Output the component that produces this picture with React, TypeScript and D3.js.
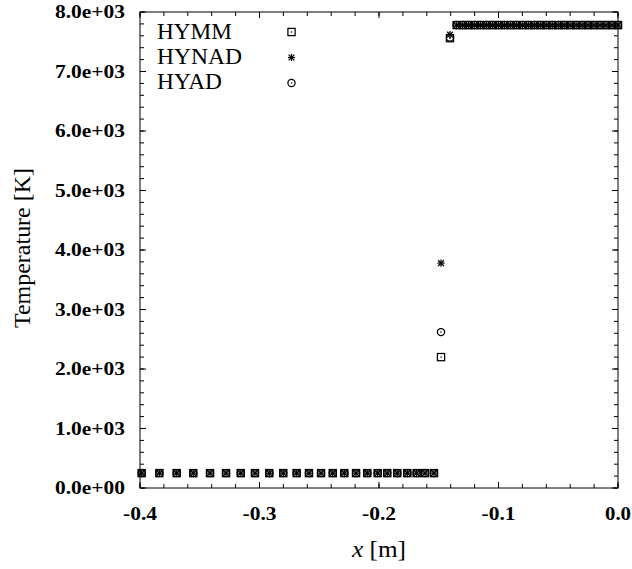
import React from "react";
import * as d3 from "d3";

const xCells = [
  -0.3986, -0.3838, -0.3693, -0.3554, -0.3414, -0.328, -0.3157, -0.3038, -0.2918, -0.2801, -0.2689, -0.2586,
  -0.2485, -0.2387, -0.229, -0.2192, -0.2098, -0.2011, -0.1931, -0.1847, -0.1763, -0.1685, -0.1615, -0.154,
  -0.1481, -0.1406,
  -0.135, -0.13, -0.125, -0.12, -0.115, -0.11, -0.105, -0.1, -0.095, -0.09, -0.085, -0.08, -0.075, -0.07,
  -0.065, -0.06, -0.055, -0.05, -0.045, -0.04, -0.035, -0.03, -0.025, -0.02, -0.015, -0.01, -0.005, 0.0,
];

const hymm = [
  250, 250, 250, 250, 250, 250, 250, 250, 250, 250, 250, 250, 250, 250, 250, 250, 250, 250, 250, 250, 250, 250, 250, 250,
  2200, 7560,
  7780, 7780, 7780, 7780, 7780, 7780, 7780, 7780, 7780, 7780, 7780, 7780, 7780, 7780,
  7780, 7780, 7780, 7780, 7780, 7780, 7780, 7780, 7780, 7780, 7780, 7780, 7780, 7780,
];
const hynad = [
  250, 250, 250, 250, 250, 250, 250, 250, 250, 250, 250, 250, 250, 250, 250, 250, 250, 250, 250, 250, 250, 250, 250, 250,
  3780, 7620,
  7780, 7780, 7780, 7780, 7780, 7780, 7780, 7780, 7780, 7780, 7780, 7780, 7780, 7780,
  7780, 7780, 7780, 7780, 7780, 7780, 7780, 7780, 7780, 7780, 7780, 7780, 7780, 7780,
];
const hyad = [
  250, 250, 250, 250, 250, 250, 250, 250, 250, 250, 250, 250, 250, 250, 250, 250, 250, 250, 250, 250, 250, 250, 250, 250,
  2620, 7570,
  7780, 7780, 7780, 7780, 7780, 7780, 7780, 7780, 7780, 7780, 7780, 7780, 7780, 7780,
  7780, 7780, 7780, 7780, 7780, 7780, 7780, 7780, 7780, 7780, 7780, 7780, 7780, 7780,
];

const seriesNames = ["HYMM", "HYNAD", "HYAD"];
const xTickLabels = ["-0.4", "-0.3", "-0.2", "-0.1", "0.0"];
const yTickLabels = ["0.0e+00", "1.0e+03", "2.0e+03", "3.0e+03", "4.0e+03", "5.0e+03", "6.0e+03", "7.0e+03", "8.0e+03"];

const W = 632;
const H = 569;
const L = 140, R = 618, T = 12, B = 488;
const FONT = "Liberation Serif, DejaVu Serif, serif";
const legendWidths = [75, 85, 65];

function Marker({ kind, x, y }: { kind: number; x: number; y: number }) {
  const s = 3.6;
  const st = { stroke: "#000", strokeWidth: 1.25, fill: "none" } as const;
  if (kind === 0) {
    return (
      <g>
        <rect x={x - s} y={y - s} width={2 * s} height={2 * s} {...st} />
        <circle cx={x} cy={y} r={0.75} fill="#000" />
      </g>
    );
  }
  if (kind === 1) {
    const d = s * 0.8;
    return (
      <g {...st}>
        <line x1={x - s} y1={y} x2={x + s} y2={y} />
        <line x1={x} y1={y - s} x2={x} y2={y + s} />
        <line x1={x - d} y1={y - d} x2={x + d} y2={y + d} />
        <line x1={x - d} y1={y + d} x2={x + d} y2={y - d} />
      </g>
    );
  }
  return (
    <g>
      <circle cx={x} cy={y} r={s} {...st} />
      <circle cx={x} cy={y} r={0.75} fill="#000" />
    </g>
  );
}

export default function App() {
  const xs = d3.scaleLinear().domain([-0.4, 0]).range([L, R]);
  const ys = d3.scaleLinear().domain([0, 8000]).range([B, T]);
  const xMajor = d3.range(0, 5).map((i) => -0.4 + i * 0.1);
  const xMinor = d3.range(0, 21).map((i) => -0.4 + i * 0.02);
  const yMajor = d3.range(0, 9).map((i) => i * 1000);
  const yMinor = d3.range(0, 41).map((i) => i * 200);
  const series = [hymm, hynad, hyad];
  const majLen = 6, minLen = 4;

  return (
    <svg width={W} height={H} style={{ position: "absolute", left: 0, top: 0, background: "#fff", fontFamily: FONT }}>
      <rect x={0} y={0} width={W} height={H} fill="#fff" />
      <g stroke="#000" strokeWidth={1}>
        {xMinor.map((v, i) => (
          <g key={"xm" + i}>
            <line x1={xs(v)} x2={xs(v)} y1={B} y2={B - minLen} />
            <line x1={xs(v)} x2={xs(v)} y1={T} y2={T + minLen} />
          </g>
        ))}
        {xMajor.map((v, i) => (
          <g key={"xM" + i}>
            <line x1={xs(v)} x2={xs(v)} y1={B} y2={B - majLen} />
            <line x1={xs(v)} x2={xs(v)} y1={T} y2={T + majLen} />
          </g>
        ))}
        {yMinor.map((v, i) => (
          <g key={"ym" + i}>
            <line x1={L} x2={L + minLen} y1={ys(v)} y2={ys(v)} />
            <line x1={R} x2={R - minLen} y1={ys(v)} y2={ys(v)} />
          </g>
        ))}
        {yMajor.map((v, i) => (
          <g key={"yM" + i}>
            <line x1={L} x2={L + majLen} y1={ys(v)} y2={ys(v)} />
            <line x1={R} x2={R - majLen} y1={ys(v)} y2={ys(v)} />
          </g>
        ))}
      </g>
      <rect x={L} y={T} width={R - L} height={B - T} fill="none" stroke="#000" strokeWidth={1} />
      {xMajor.map((v, i) => (
        <text key={"xl" + i} x={xs(v)} y={520} textAnchor="middle" fontSize={19} fontWeight="bold"
          textLength={xTickLabels[i].startsWith("-") ? 34 : 26} lengthAdjust="spacingAndGlyphs">
          {xTickLabels[i]}
        </text>
      ))}
      {yMajor.map((v, i) => (
        <text key={"yl" + i} x={125} y={ys(v) + 6} textAnchor="end" fontSize={19} fontWeight="bold"
          textLength={70} lengthAdjust="spacingAndGlyphs">
          {yTickLabels[i]}
        </text>
      ))}
      <text x={(L + R) / 2} y={557} textAnchor="middle" fontSize={23} textLength={54} lengthAdjust="spacingAndGlyphs">
        <tspan fontStyle="italic">x</tspan> [m]
      </text>
      <text transform={`translate(30, 248) rotate(-90)`} textAnchor="middle" fontSize={23}
        textLength={160} lengthAdjust="spacingAndGlyphs">
        Temperature [K]
      </text>
      {series.map((arr, si) => (
        <g key={"s" + si}>
          {arr.map((v, i) => (
            <Marker key={i} kind={si} x={xs(xCells[i])} y={ys(v)} />
          ))}
        </g>
      ))}
      {seriesNames.map((n, i) => (
        <g key={"lg" + i}>
          <text x={157} y={39 + i * 25} fontSize={23} textLength={legendWidths[i]} lengthAdjust="spacingAndGlyphs">
            {n}
          </text>
          <Marker kind={i} x={291.5} y={32 + i * 25.5} />
        </g>
      ))}
    </svg>
  );
}
